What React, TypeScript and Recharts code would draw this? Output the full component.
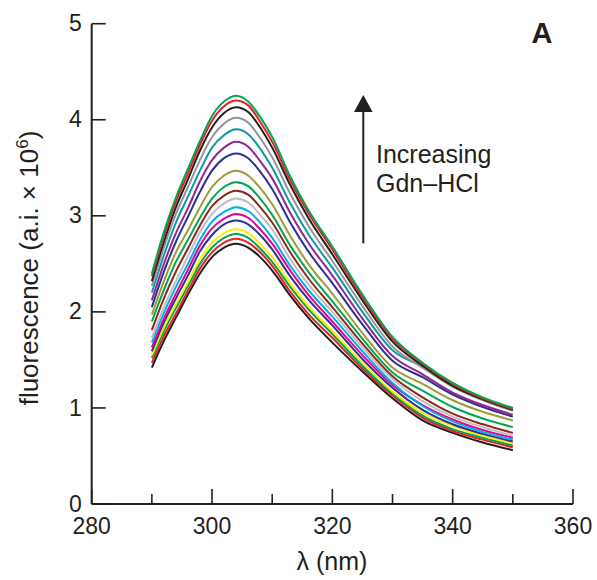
import React from "react";
import { LineChart, Line, XAxis, YAxis } from "recharts";

// emission wavelengths (nm)
const wavelengths = [290, 292, 294, 296, 298, 300, 302, 304, 306, 308, 310, 313, 316, 320, 325, 330, 335, 340, 345, 350];

// spectra, lowest Gdn-HCl (bottom) to highest (top)
const c01 = [1.42, 1.70, 1.94, 2.18, 2.40, 2.57, 2.67, 2.71, 2.67, 2.57, 2.43, 2.17, 1.94, 1.68, 1.38, 1.10, 0.87, 0.74, 0.64, 0.56];
const c02 = [1.47, 1.75, 1.98, 2.22, 2.45, 2.62, 2.72, 2.76, 2.72, 2.62, 2.48, 2.21, 1.98, 1.73, 1.41, 1.13, 0.90, 0.76, 0.67, 0.59];
const c03 = [1.52, 1.80, 2.04, 2.27, 2.50, 2.67, 2.77, 2.81, 2.77, 2.66, 2.52, 2.26, 2.03, 1.77, 1.44, 1.15, 0.92, 0.78, 0.69, 0.61];
const c04 = [1.55, 1.84, 2.08, 2.31, 2.55, 2.72, 2.82, 2.86, 2.82, 2.71, 2.57, 2.30, 2.06, 1.80, 1.47, 1.17, 0.95, 0.81, 0.71, 0.63];
const c05 = [1.59, 1.89, 2.14, 2.38, 2.63, 2.80, 2.91, 2.95, 2.91, 2.80, 2.65, 2.37, 2.13, 1.86, 1.51, 1.21, 0.98, 0.83, 0.73, 0.65];
const c06 = [1.63, 1.93, 2.19, 2.44, 2.69, 2.87, 2.97, 3.02, 2.98, 2.86, 2.71, 2.43, 2.18, 1.90, 1.55, 1.24, 1.03, 0.88, 0.77, 0.69];
const c07 = [1.68, 1.99, 2.26, 2.50, 2.75, 2.94, 3.04, 3.09, 3.05, 2.93, 2.77, 2.48, 2.23, 1.95, 1.59, 1.26, 1.02, 0.86, 0.75, 0.67];
const c08 = [1.73, 2.05, 2.32, 2.58, 2.83, 3.02, 3.13, 3.18, 3.14, 3.01, 2.86, 2.55, 2.29, 2.00, 1.63, 1.30, 1.07, 0.91, 0.80, 0.71];
const c09 = [1.81, 2.14, 2.42, 2.66, 2.90, 3.10, 3.21, 3.26, 3.22, 3.09, 2.93, 2.62, 2.35, 2.05, 1.67, 1.33, 1.11, 0.94, 0.83, 0.74];
const c10 = [1.90, 2.23, 2.52, 2.75, 2.98, 3.18, 3.30, 3.35, 3.31, 3.18, 3.01, 2.69, 2.42, 2.11, 1.72, 1.37, 1.18, 1.01, 0.89, 0.80];
const c11 = [1.97, 2.32, 2.62, 2.85, 3.09, 3.30, 3.42, 3.47, 3.42, 3.29, 3.12, 2.79, 2.50, 2.19, 1.78, 1.42, 1.25, 1.08, 0.96, 0.87];
const c12 = [2.05, 2.42, 2.73, 2.99, 3.25, 3.47, 3.60, 3.65, 3.60, 3.46, 3.28, 2.93, 2.63, 2.30, 1.87, 1.49, 1.32, 1.14, 1.01, 0.91];
const c13 = [2.12, 2.50, 2.82, 3.08, 3.36, 3.58, 3.71, 3.77, 3.72, 3.57, 3.39, 3.03, 2.72, 2.38, 1.93, 1.54, 1.35, 1.16, 1.03, 0.93];
const c14 = [2.20, 2.59, 2.93, 3.20, 3.47, 3.71, 3.84, 3.90, 3.85, 3.70, 3.50, 3.13, 2.81, 2.46, 2.00, 1.60, 1.43, 1.23, 1.10, 0.99];
const c15 = [2.27, 2.67, 3.02, 3.30, 3.58, 3.82, 3.96, 4.02, 3.97, 3.81, 3.61, 3.23, 2.90, 2.53, 2.06, 1.64, 1.42, 1.22, 1.08, 0.97];
const c16 = [2.32, 2.73, 3.09, 3.38, 3.68, 3.92, 4.07, 4.13, 4.08, 3.92, 3.71, 3.32, 2.98, 2.60, 2.12, 1.69, 1.44, 1.23, 1.09, 0.98];
const c17 = [2.37, 2.79, 3.15, 3.44, 3.74, 3.99, 4.14, 4.20, 4.15, 3.98, 3.77, 3.37, 3.03, 2.65, 2.15, 1.72, 1.46, 1.25, 1.10, 0.99];
const c18 = [2.40, 2.83, 3.19, 3.49, 3.78, 4.04, 4.19, 4.25, 4.19, 4.03, 3.82, 3.41, 3.06, 2.68, 2.18, 1.74, 1.47, 1.26, 1.11, 1.00];

const spectra = [c01, c02, c03, c04, c05, c06, c07, c08, c09, c10, c11, c12, c13, c14, c15, c16, c17, c18];
const spectraColors = [
  "#231F20", "#ED1C24", "#00A651", "#FFED00", "#2E3192", "#EC008C",
  "#00AEEF", "#BCBEC0", "#8B2A1E", "#00A651", "#9E9B36", "#2E3192",
  "#92278F", "#0D9AA6", "#939598", "#231F20", "#ED1C24", "#00A651",
];

const xTicks = [280, 290, 300, 310, 320, 330, 340, 350, 360];
const yTicks = [0, 1, 2, 3, 4, 5];

const INK = "#231F20";
const FONT = "'Liberation Sans', Arial, Helvetica, sans-serif";

const chartData = wavelengths.map((w, i) => {
  const row: Record<string, number> = { w };
  spectra.forEach((s, k) => {
    row["c" + k] = s[i];
  });
  return row;
});

// ticks point inwards, minor ones shorter, labels only on the 20s
function XTick(props: any) {
  const { x, y, payload } = props;
  const major = payload.value % 20 === 0;
  return (
    <g>
      <line x1={x} x2={x} y1={y} y2={y - (major ? 15 : 10)} stroke={INK} strokeWidth={1.6} />
      {major && (
        <text x={x} y={y + 30} textAnchor="middle" fontSize={23} fill={INK} fontFamily={FONT}>
          {payload.value}
        </text>
      )}
    </g>
  );
}

function YTick(props: any) {
  const { x, y, payload } = props;
  return (
    <g>
      <line x1={x} x2={x + 14} y1={y} y2={y} stroke={INK} strokeWidth={1.6} />
      <text x={x - 10} y={y} dy="0.33em" textAnchor="end" fontSize={23} fill={INK} fontFamily={FONT}>
        {payload.value}
      </text>
    </g>
  );
}

export default function App() {
  return (
    <div style={{ position: "relative", width: 597, height: 580, background: "#fff" }}>
      <style>{"body{margin:0}"}</style>
      <LineChart
        width={597}
        height={580}
        data={chartData}
        margin={{ top: 23.7, right: 24, bottom: 46, left: 31.7 }}
      >
        <XAxis
          dataKey="w"
          type="number"
          domain={[280, 360]}
          ticks={xTicks}
          tickSize={0}
          tickMargin={0}
          tickLine={false}
          tick={<XTick />}
          axisLine={{ stroke: INK, strokeWidth: 2 }}
          height={30}
          interval={0}
        />
        <YAxis
          type="number"
          domain={[0, 5]}
          ticks={yTicks}
          tickSize={0}
          tickMargin={0}
          tickLine={false}
          tick={<YTick />}
          axisLine={{ stroke: INK, strokeWidth: 2 }}
          width={60}
          interval={0}
        />
        {spectra.map((_, k) => (
          <Line
            key={k}
            type="monotone"
            dataKey={"c" + k}
            stroke={spectraColors[k]}
            strokeWidth={2}
            dot={false}
            isAnimationActive={false}
          />
        ))}
      </LineChart>
      <svg
        width={597}
        height={580}
        style={{ position: "absolute", left: 0, top: 0, pointerEvents: "none" }}
        fontFamily={FONT}
        fill={INK}
      >
        <text transform="translate(38 268) rotate(-90)" textAnchor="middle" fontSize={26}>
          fluorescence (a.i. × 10<tspan dy={-10} fontSize={17}>6</tspan>
          <tspan dy={10}>)</tspan>
        </text>
        <text x={332} y={570} textAnchor="middle" fontSize={25}>
          λ (nm)
        </text>
        <line x1={363.3} x2={363.3} y1={110} y2={243.3} stroke={INK} strokeWidth={2} />
        <polygon points="363.3,95 354,112 372.6,112" fill={INK} />
        <text x={376} y={162.5} fontSize={25}>
          Increasing
        </text>
        <text x={376} y={191.5} fontSize={25}>
          Gdn–HCl
        </text>
        <text x={531.5} y={42.5} fontSize={29} fontWeight="bold">
          A
        </text>
      </svg>
    </div>
  );
}
